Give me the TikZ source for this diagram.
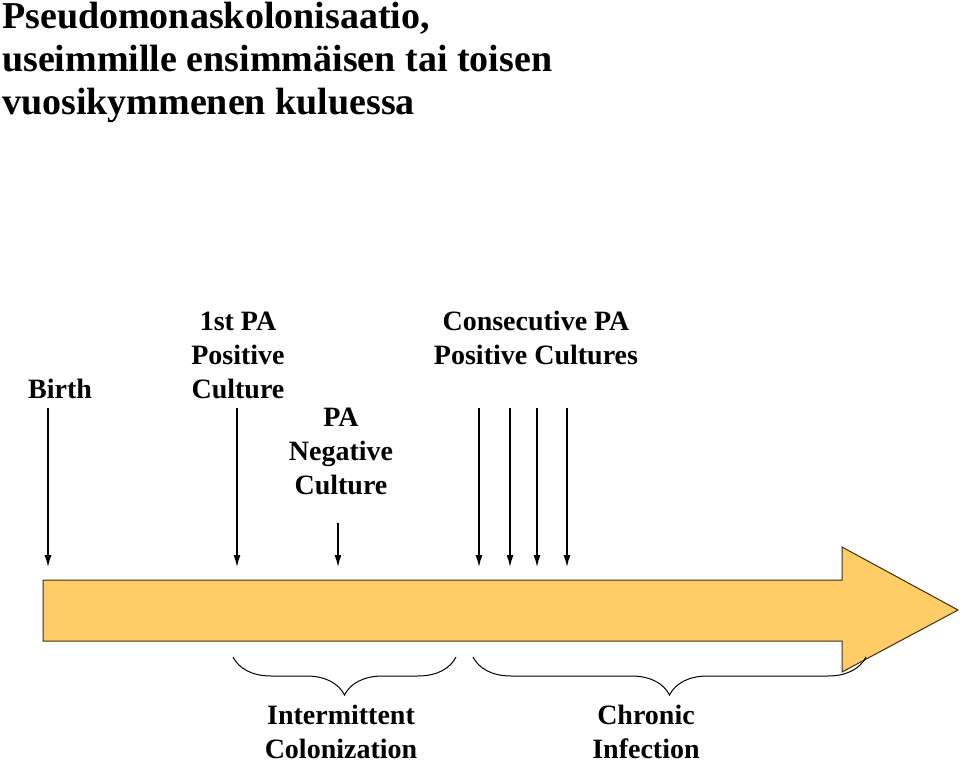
\documentclass[tikz,border=0pt]{standalone}
\usepackage{fontspec}
\setmainfont{Liberation Serif}
\usetikzlibrary{arrows.meta,decorations.pathreplacing}
\definecolor{barfill}{RGB}{255,204,102}
\definecolor{baredge}{RGB}{60,45,25}

\begin{document}
\begin{tikzpicture}[
 x=1pt, y=1pt,
 >={Latex[length=12pt,width=7pt]},
 align=center,
 inner sep=0pt,
 heading/.style={anchor=north west,align=left,font=\fontsize{38}{43}\selectfont\bfseries},
 event/.style={font=\fontsize{28}{34}\selectfont\bfseries},
 phase/.style={font=\fontsize{28}{34}\selectfont\bfseries},
 tick/.style={->,line width=1.3pt},
 bar/.style={draw=baredge,fill=barfill,line width=1pt},
 curly/.style={decorate,decoration={brace,mirror,amplitude=38pt},line width=1pt}
]
\useasboundingbox (0,0) rectangle (960,764);
\node (title) [heading] at (2,762) {Pseudomonaskolonisaatio,\\useimmille ensimmäisen tai toisen\\vuosikymmenen kuluessa};

% time line
\draw [bar] (43,184) -- (842,184) -- (842,217) -- (958,154) -- (842,92) -- (842,123) -- (43,123) -- cycle;

% events above the time line
\node (birth) [event] at (60,375) {Birth};
\node (first-pos) [event] at (238,409) {1st PA\\Positive\\Culture};
\node (neg) [event] at (341,313) {PA\\Negative\\Culture};
\node (consecutive) [event] at (536,426) {Consecutive PA\\Positive Cultures};

\coordinate (birth-top) at (48,356);
\coordinate (birth-tip) at (48,197);
\coordinate (first-top) at (237,356);
\coordinate (first-tip) at (237,197);
\coordinate (neg-top) at (338,241);
\coordinate (neg-tip) at (338,197);
\draw [tick] (birth-top) -- (birth-tip);
\draw [tick] (first-top) -- (first-tip);
\draw [tick] (neg-top) -- (neg-tip);
\foreach \x [count=\i] in {479,510,537,567} {
  \coordinate (cons-top-\i) at (\x,356);
  \coordinate (cons-tip-\i) at (\x,197);
  \draw [tick] (cons-top-\i) -- (cons-tip-\i);
}

% phases below the time line
\coordinate (inter-left) at (233,107);
\coordinate (inter-right) at (456,107);
\coordinate (chronic-left) at (473,107);
\coordinate (chronic-right) at (866,107);
\draw [curly] (inter-left) -- (inter-right);
\draw [curly] (chronic-left) -- (chronic-right);
\node (inter) [phase] at (341,32) {Intermittent\\Colonization};
\node (chronic) [phase] at (646,32) {Chronic\\Infection};
\end{tikzpicture}
\end{document}
